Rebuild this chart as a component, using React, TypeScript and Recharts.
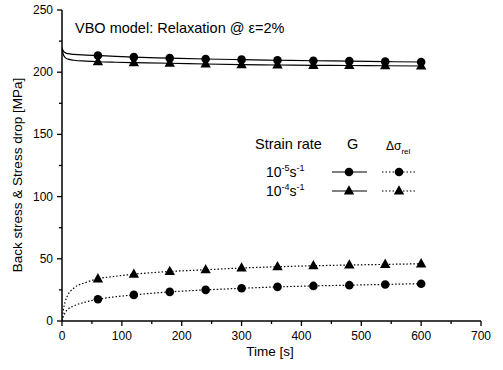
import { ComposedChart, Line, XAxis, YAxis } from 'recharts'

// time points of the model curves [s]
const lineTimes = [0, 2, 5, 10, 20, 40, 60, 90, 120, 180, 240, 300, 360, 420, 480, 540, 600]
// times where the symbols sit
const markerTimes = [60, 120, 180, 240, 300, 360, 420, 480, 540, 600]

// back stress G [MPa]
const gSlow = [219.5, 217.2, 215.8, 214.9, 214.3, 213.8, 213.4, 212.7, 212.1, 211.3, 210.6, 210.1, 209.6, 209.2, 208.9, 208.5, 208.2]
const gFast = [220, 214.5, 212, 210.5, 209.6, 208.9, 208.4, 208.0, 207.7, 207.2, 206.6, 206.1, 205.8, 205.5, 205.4, 205.2, 205.0]
// stress drop during relaxation [MPa]
const dSlow = [0, 3.5, 6.5, 9.5, 12.2, 15.3, 17.5, 19.5, 21.0, 23.4, 25.0, 26.3, 27.4, 28.2, 28.8, 29.4, 30.0]
const dFast = [0, 8, 15, 21, 26.5, 31, 33.9, 36.0, 37.6, 39.8, 41.2, 42.6, 43.6, 44.4, 45.0, 45.5, 46.0]

const xTicks = [0, 50, 100, 150, 200, 250, 300, 350, 400, 450, 500, 550, 600, 650, 700]
const yTicks = [0, 25, 50, 75, 100, 125, 150, 175, 200, 225, 250]

const FONT = '"Liberation Sans", Arial, sans-serif'

const toRows = (vals: number[]) => lineTimes.map((t, i) => ({ t, v: vals[i] }))

const circleDot = (p: any) => {
  if (!markerTimes.includes(p.payload?.t)) return <g key={p.index} />
  return <circle key={p.index} cx={p.cx} cy={p.cy} r={4.3} fill="#000" />
}

const triPath = (cx: number, cy: number) =>
  `M${cx},${cy - 5.8}L${cx - 5.2},${cy + 3.6}L${cx + 5.2},${cy + 3.6}Z`

const triDot = (p: any) => {
  if (!markerTimes.includes(p.payload?.t)) return <g key={p.index} />
  return <path key={p.index} d={triPath(p.cx, p.cy)} fill="#000" />
}

const XTick = (p: any) => {
  const v = p.payload.value
  const major = v % 100 === 0
  return (
    <g>
      <line x1={p.x} x2={p.x} y1={p.y} y2={p.y + (major ? 5 : 3)} stroke="#000" strokeWidth={1.3} />
      {major && (
        <text x={p.x} y={p.y + 19} textAnchor="middle" fontSize={12} fontFamily={FONT} fill="#000">
          {v}
        </text>
      )}
    </g>
  )
}

const YTick = (p: any) => {
  const v = p.payload.value
  const major = v % 50 === 0
  return (
    <g>
      <line x1={p.x} x2={p.x - (major ? 5 : 3)} y1={p.y} y2={p.y} stroke="#000" strokeWidth={1.3} />
      {major && (
        <text x={p.x - 9} y={p.y + 4} textAnchor="end" fontSize={12} fontFamily={FONT} fill="#000">
          {v}
        </text>
      )}
    </g>
  )
}

function Overlay() {
  const t = { fontFamily: FONT, fill: '#000' }
  return (
    <svg width={503} height={370} style={{ position: 'absolute', left: 0, top: 0, pointerEvents: 'none' }}>
      <text x={75} y={33} fontSize={14.5} {...t}>VBO model: Relaxation @ ε=2%</text>
      <text x={255} y={149} fontSize={14.5} {...t}>Strain rate</text>
      <text x={347} y={149} fontSize={14.5} {...t}>G</text>
      <text x={386} y={150} fontSize={12} {...t}>
        Δσ<tspan fontSize={8} dy={4}>rel</tspan>
      </text>
      <text x={266} y={177} fontSize={14} {...t}>
        10<tspan fontSize={9} dy={-6}>-5</tspan><tspan dy={6}>s</tspan><tspan fontSize={9} dy={-6}>-1</tspan>
      </text>
      <text x={266} y={196} fontSize={14} {...t}>
        10<tspan fontSize={9} dy={-6}>-4</tspan><tspan dy={6}>s</tspan><tspan fontSize={9} dy={-6}>-1</tspan>
      </text>
      <line x1={332} x2={367} y1={172} y2={172} stroke="#000" strokeWidth={1.2} />
      <circle cx={349} cy={172} r={4.3} fill="#000" />
      <line x1={382} x2={417} y1={172} y2={172} stroke="#000" strokeWidth={1.2} strokeDasharray="1.5 2" />
      <circle cx={399} cy={172} r={4.3} fill="#000" />
      <line x1={332} x2={367} y1={191} y2={191} stroke="#000" strokeWidth={1.2} />
      <path d={triPath(349, 191)} fill="#000" />
      <line x1={382} x2={417} y1={191} y2={191} stroke="#000" strokeWidth={1.2} strokeDasharray="1.5 2" />
      <path d={triPath(399, 191)} fill="#000" />
      <text x={270} y={356} fontSize={13.5} textAnchor="middle" {...t}>Time [s]</text>
      <text x={0} y={0} fontSize={13.5} textAnchor="middle" transform="translate(22,175) rotate(-90)" {...t}>
        Back stress &amp; Stress drop [MPa]
      </text>
    </svg>
  )
}

export default function App() {
  return (
    <div style={{ position: 'fixed', left: 0, top: 0, width: 503, height: 370, background: '#fff' }}>
      <ComposedChart width={503} height={370} margin={{ top: 10, right: 22, bottom: 19, left: 18 }}>
        <XAxis
          dataKey="t"
          type="number"
          domain={[0, 700]}
          ticks={xTicks}
          interval={0}
          height={30}
          tickSize={0}
          tickMargin={0}
          tick={XTick}
          axisLine={{ stroke: '#000', strokeWidth: 1.5 }}
          allowDataOverflow
        />
        <XAxis xAxisId="top" orientation="top" type="number" domain={[0, 700]} height={0} tick={false} axisLine={{ stroke: '#000', strokeWidth: 1.3 }} />
        <YAxis
          type="number"
          domain={[0, 250]}
          ticks={yTicks}
          interval={0}
          width={44}
          tickSize={0}
          tickMargin={0}
          tick={YTick}
          axisLine={{ stroke: '#000', strokeWidth: 1.5 }}
        />
        <YAxis yAxisId="right" orientation="right" type="number" domain={[0, 250]} width={0} tick={false} axisLine={{ stroke: '#000', strokeWidth: 1.3 }} />
        <Line data={toRows(gSlow)} dataKey="v" type="monotone" stroke="#000" strokeWidth={1.2} dot={circleDot} activeDot={false} isAnimationActive={false} />
        <Line data={toRows(gFast)} dataKey="v" type="monotone" stroke="#000" strokeWidth={1.2} dot={triDot} activeDot={false} isAnimationActive={false} />
        <Line data={toRows(dSlow)} dataKey="v" type="monotone" stroke="#000" strokeWidth={1.2} strokeDasharray="1.5 2" dot={circleDot} activeDot={false} isAnimationActive={false} />
        <Line data={toRows(dFast)} dataKey="v" type="monotone" stroke="#000" strokeWidth={1.2} strokeDasharray="1.5 2" dot={triDot} activeDot={false} isAnimationActive={false} />
      </ComposedChart>
      <Overlay />
    </div>
  )
}
